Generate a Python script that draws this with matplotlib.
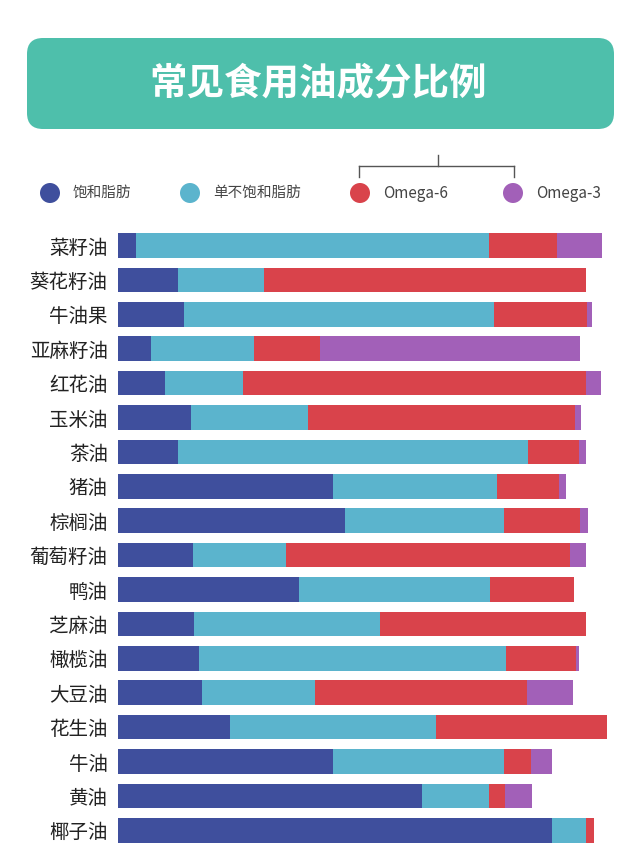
import matplotlib
matplotlib.use("Agg")
import matplotlib.pyplot as plt
from matplotlib.patches import FancyBboxPatch, Circle

plt.rcParams['font.family'] = ['Noto Sans CJK SC', 'DejaVu Sans']

# oils, top to bottom
oils = ["菜籽油", "葵花籽油", "牛油果", "亚麻籽油", "红花油", "玉米油", "茶油", "猪油",
        "棕榈油", "葡萄籽油", "鸭油", "芝麻油", "橄榄油", "大豆油", "花生油", "牛油",
        "黄油", "椰子油"]
# percentages
saturated = [3.8, 12.4, 13.6, 6.9, 9.6, 14.9, 12.3, 43.9, 46.4, 15.4, 37.0, 15.6,
             16.6, 17.2, 22.9, 43.9, 62.1, 88.7]
mufa = [72.1, 17.5, 63.3, 21.0, 16.1, 23.9, 71.4, 33.5, 32.4, 19.0, 39.0, 38.0,
        62.6, 23.2, 42.0, 35.0, 13.7, 6.9]
omega6 = [13.7, 65.8, 18.9, 13.5, 70.0, 54.5, 10.5, 12.7, 15.6, 58.0, 17.1, 42.1,
          14.3, 43.2, 35.0, 5.4, 3.3, 1.7]
omega3 = [9.2, 0.0, 1.1, 53.0, 3.0, 1.2, 1.4, 1.4, 1.7, 3.2, 0.0, 0.0,
          0.7, 9.3, 0.0, 4.3, 5.5, 0.0]

series_names = ["饱和脂肪", "单不饱和脂肪", "Omega-6", "Omega-3"]
colors = ["#3f4f9d", "#5bb4cd", "#d9434b", "#a260b8"]

W, H = 640, 863
fig = plt.figure(figsize=(W / 100, H / 100), dpi=100)
fig.patch.set_facecolor("white")

# background axes in pixel coordinates for title and legend
bg = fig.add_axes([0, 0, 1, 1])
bg.set_xlim(0, W)
bg.set_ylim(H, 0)
bg.axis("off")

bg.add_patch(FancyBboxPatch((27 + 16, 38 + 16), 587 - 32, 91 - 32,
                            boxstyle="round,pad=16", facecolor="#4ebfab",
                            edgecolor="none"))
bg.text(318, 84, "常见食用油成分比例", color="white", fontsize=27, fontweight="bold",
        ha="center", va="center")

# legend
leg_x = [50, 190, 360, 513]
for name, c, x in zip(series_names, colors, leg_x):
    bg.add_patch(Circle((x, 193), 10, facecolor=c, edgecolor="none"))
    fs = 11 if name.startswith("Omega") else 10.5
    bg.text(x + 23, 193, name, fontsize=fs, color="#444444", ha="left", va="center")

# bracket over the two omega entries
bg.plot([437.5, 437.5], [155, 166], color="#555555", lw=1)
bg.plot([359, 513.5], [166, 166], color="#555555", lw=1)
bg.plot([359, 359], [166, 177], color="#555555", lw=1)
bg.plot([513.5, 513.5], [166, 177], color="#555555", lw=1)

# bar axes
x0, x1 = 117.5, 617.5
top, bottom = 228.3, 847.5
ax = fig.add_axes([x0 / W, 1 - bottom / H, (x1 - x0) / W, (bottom - top) / H])
ax.patch.set_alpha(0)

ypos = list(range(len(oils)))
left = [0.0] * len(oils)
for vals, c in zip([saturated, mufa, omega6, omega3], colors):
    ax.barh(ypos, vals, left=left, height=0.72, color=c, edgecolor="none")
    left = [l + v for l, v in zip(left, vals)]

ax.set_xlim(0, (x1 - x0) / 4.9)
ax.set_ylim(len(oils) - 0.5, -0.5)
ax.set_yticks(ypos)
ax.set_yticklabels(oils, fontsize=14, color="#222222")
ax.tick_params(axis="y", length=0, pad=7)
ax.set_xticks([])
for s in ax.spines.values():
    s.set_visible(False)

fig.savefig("out.png", dpi=100, facecolor="white")
